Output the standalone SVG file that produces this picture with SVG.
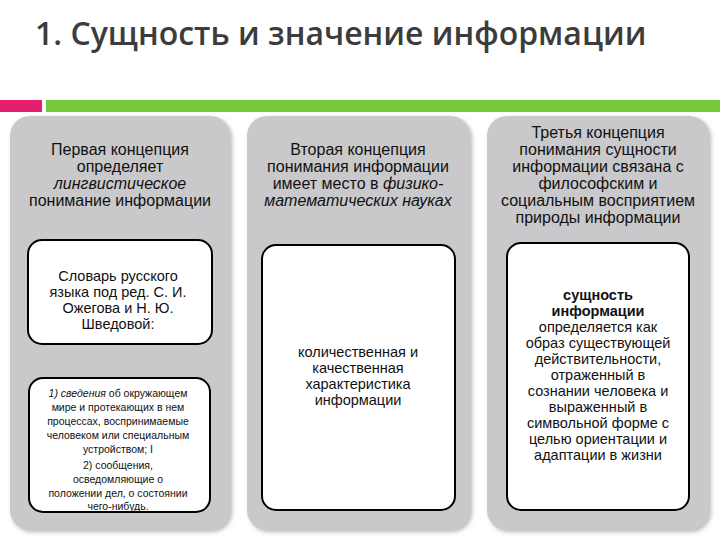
<svg xmlns="http://www.w3.org/2000/svg" width="720" height="540" viewBox="0 0 720 540">
<style>
.p{fill:#c9c9cb;filter:url(#sh)}
.b{fill:#fff;stroke:#000;stroke-width:2}
text{font-family:"Liberation Sans",Arial,sans-serif;fill:#111;text-anchor:middle}
.t{font-size:16px}
.s{font-size:14.5px}
.x{font-size:10.5px}
.i{font-style:italic}
</style>
<defs><filter id="sh" x="-5%" y="-5%" width="115%" height="115%"><feDropShadow dx="2" dy="2" stdDeviation="2" flood-color="#888" flood-opacity="0.6"/></filter></defs>
<rect width="720" height="540" fill="#fff"/>
<text x="35" y="45" style="font-family:'Open Sans','DejaVu Sans',sans-serif;font-size:32px;font-weight:600;fill:#3c3c3c;text-anchor:start">1. Сущность и значение информации</text>
<rect x="0" y="100" width="42" height="12" fill="#e4206e"/>
<rect x="46" y="100" width="674" height="12" fill="#78c83c"/>
<g id="col1">
<rect class="p" x="10" y="116" width="220" height="414" rx="20"/>
<text class="t" x="120" y="155">Первая концепция</text>
<text class="t" x="120" y="172">определяет</text>
<text class="t i" x="120" y="189">лингвистическое</text>
<text class="t" x="120" y="206">понимание информации</text>
</g>
<g id="box1a">
<rect class="b" x="28" y="240" width="184" height="104" rx="14"/>
<text class="s" x="118" y="281">Словарь русского</text>
<text class="s" x="118" y="297">языка под ред. С. И.</text>
<text class="s" x="118" y="313">Ожегова и Н. Ю.</text>
<text class="s" x="118" y="329">Шведовой:</text>
</g>
<g id="box1b">
<rect class="b" x="29" y="378" width="181" height="134" rx="14"/>
<text class="x" x="118" y="397"><tspan class="i">1) сведения</tspan> об окружающем</text>
<text class="x" x="118" y="411">мире и протекающих в нем</text>
<text class="x" x="118" y="425">процессах, воспринимаемые</text>
<text class="x" x="118" y="439">человеком или специальным</text>
<text class="x" x="118" y="453">устройством; I</text>
<text class="x" x="118" y="469">2) сообщения,</text>
<text class="x" x="118" y="483">осведомляющие о</text>
<text class="x" x="118" y="497">положении дел, о состоянии</text>
<text class="x" x="118" y="510">чего-нибудь.</text>
</g>
<g id="col2">
<rect class="p" x="247" y="116" width="223" height="414" rx="20"/>
<text class="t" x="358" y="155">Вторая концепция</text>
<text class="t" x="358" y="172">понимания информации</text>
<text class="t" x="358" y="189">имеет место в <tspan class="i">физико-</tspan></text>
<text class="t i" x="358" y="206">математических  науках</text>
</g>
<g id="box2">
<rect class="b" x="262" y="245" width="193" height="265" rx="14"/>
<text class="s" x="358" y="357">количественная и</text>
<text class="s" x="358" y="373">качественная</text>
<text class="s" x="358" y="389">характеристика</text>
<text class="s" x="358" y="405">информации</text>
</g>
<g id="col3">
<rect class="p" x="487" y="116" width="222" height="414" rx="20"/>
<text class="t" x="598" y="138">Третья концепция</text>
<text class="t" x="598" y="155">понимания сущности</text>
<text class="t" x="598" y="172">информации связана с</text>
<text class="t" x="598" y="189">философским и</text>
<text class="t" x="598" y="206">социальным восприятием</text>
<text class="t" x="598" y="223">природы информации</text>
</g>
<g id="box3">
<rect class="b" x="507" y="243" width="182" height="267" rx="14"/>
<text class="s" x="598" y="300" font-weight="bold">сущность</text>
<text class="s" x="598" y="316" font-weight="bold">информации</text>
<text class="s" x="598" y="332">определяется как</text>
<text class="s" x="598" y="348">образ существующей</text>
<text class="s" x="598" y="364">действительности,</text>
<text class="s" x="598" y="380">отраженный в</text>
<text class="s" x="598" y="396">сознании человека и</text>
<text class="s" x="598" y="412">выраженный в</text>
<text class="s" x="598" y="428">символьной форме с</text>
<text class="s" x="598" y="444">целью ориентации и</text>
<text class="s" x="598" y="460">адаптации в жизни</text>
</g>
<g id="connectors"/>
</svg>
